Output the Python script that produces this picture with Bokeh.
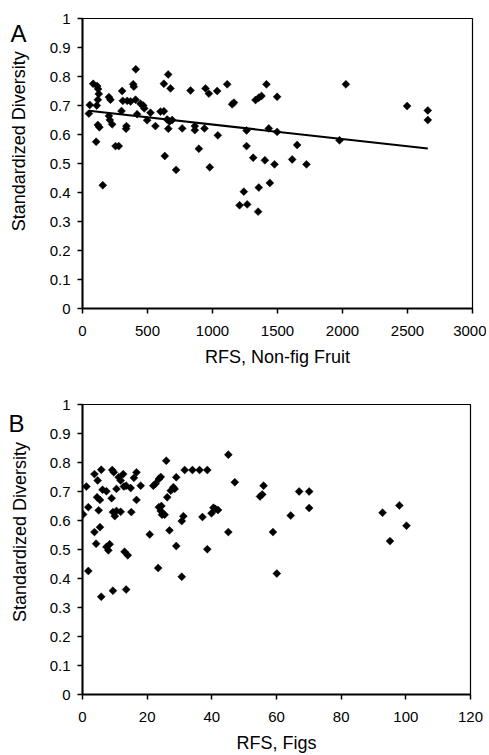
from bokeh.plotting import figure
from bokeh.layouts import column, row
from bokeh.models import FixedTicker, CustomJSTickFormatter, Range1d, ColumnDataSource
from bokeh.core.properties import value
from bokeh.embed import file_html
from bokeh.resources import INLINE
import math

# ---------------- Panel A: RFS, Non-fig Fruit ----------------
nonfig_x = [49, 56, 82, 113, 120, 125, 118, 110, 105, 118, 130, 203, 215, 203, 210,
            228, 254, 279, 305, 310, 300, 338, 335, 344, 370, 390, 395, 410, 408, 420,
            446, 467, 475, 497, 523, 561, 600, 626, 626, 659, 677, 633, 651, 660, 670,
            690, 720, 767, 831, 864, 864, 895, 938, 946, 972, 979, 1036, 1041, 1113,
            1151, 1165, 1262, 1262, 156, 1208, 1267, 1241, 1415, 1331, 1356, 1377,
            1497, 2026, 2497, 2656, 2656, 1433, 1497, 1977, 1651, 1313, 1403, 1477,
            1613, 1723, 1356, 1441, 1351]
nonfig_y = [0.672, 0.702, 0.775, 0.767, 0.757, 0.740, 0.720, 0.700, 0.575, 0.633,
            0.625, 0.729, 0.720, 0.664, 0.650, 0.635, 0.560, 0.560, 0.750, 0.716,
            0.681, 0.629, 0.620, 0.716, 0.714, 0.773, 0.765, 0.825, 0.720, 0.670,
            0.706, 0.700, 0.690, 0.649, 0.675, 0.629, 0.679, 0.680, 0.775, 0.807,
            0.759, 0.526, 0.652, 0.620, 0.645, 0.650, 0.478, 0.621, 0.752, 0.629,
            0.615, 0.551, 0.621, 0.759, 0.741, 0.487, 0.750, 0.597, 0.773, 0.704,
            0.710, 0.614, 0.560, 0.425, 0.356, 0.359, 0.403, 0.773, 0.719, 0.727,
            0.733, 0.730, 0.773, 0.698, 0.683, 0.650, 0.621, 0.609, 0.580, 0.564,
            0.520, 0.511, 0.497, 0.514, 0.497, 0.417, 0.433, 0.334]
trend_intercept = 0.684
trend_slope = -0.0000497

# ---------------- Panel B: RFS, Figs ----------------
figs_x = [0.2, 1.2, 1.8, 1.8, 3.7, 3.7, 4.2, 4.7, 4.5, 5.0, 5.4, 5.8, 5.4, 6.2, 7.4,
          7.4, 8.0, 8.4, 9.0, 9.2, 9.7, 9.4, 10.0, 10.5, 10.5, 11.8, 11.2, 11.8, 12.6,
          12.8, 13.5, 13.0, 14.0, 14.9, 15.1, 15.9, 16.7, 16.7, 18.0, 20.8, 21.9,
          22.6, 23.6, 24.2, 23.6, 24.4, 24.2, 24.6, 25.4, 25.9, 26.2, 26.9, 27.3,
          28.1, 28.5, 29.0, 29.0, 30.7, 31.2, 31.6, 34.0, 36.2, 38.6, 37.1, 38.6,
          39.9, 40.5, 41.1, 41.9, 45.1, 45.1, 47.1, 5.8, 9.4, 13.5, 23.4, 30.7, 60.1,
          56.0, 54.9, 55.6, 58.9, 64.4, 67.0, 70.1, 70.1, 92.8, 98.0, 100.2, 95.1]
figs_y = [0.621, 0.717, 0.646, 0.426, 0.760, 0.560, 0.520, 0.738, 0.680, 0.635,
          0.577, 0.775, 0.671, 0.706, 0.701, 0.509, 0.497, 0.518, 0.677, 0.774,
          0.766, 0.629, 0.615, 0.633, 0.709, 0.630, 0.749, 0.738, 0.760, 0.717,
          0.720, 0.492, 0.480, 0.712, 0.629, 0.747, 0.766, 0.671, 0.720, 0.552,
          0.720, 0.727, 0.743, 0.750, 0.646, 0.650, 0.633, 0.620, 0.620, 0.806,
          0.680, 0.566, 0.703, 0.715, 0.709, 0.749, 0.512, 0.598, 0.615, 0.774,
          0.774, 0.774, 0.774, 0.612, 0.501, 0.625, 0.644, 0.640, 0.636, 0.827,
          0.560, 0.732, 0.337, 0.358, 0.362, 0.436, 0.406, 0.417, 0.720, 0.683,
          0.690, 0.560, 0.617, 0.700, 0.700, 0.643, 0.627, 0.652, 0.582, 0.529]

y_ticks = [0, 0.1, 0.2, 0.3, 0.4, 0.5, 0.6, 0.7, 0.8, 0.9, 1]
xa_ticks = [0, 500, 1000, 1500, 2000, 2500, 3000]
xb_ticks = [0, 20, 40, 60, 80, 100, 120]
y_title = "Standardized Diversity"

FONT = "Liberation Sans"
FONT_V = value(FONT)
SIDE_W = 44      # narrow strip holding the panel letter and the y-axis title
MAIN_W = 442


def make_side(height, top, bottom, letter, letter_x, letter_y, title_x, title_y):
    fh = height - top - bottom
    s = figure(width=SIDE_W, height=height, x_range=Range1d(0, SIDE_W),
               y_range=Range1d(-bottom / fh, 1 + top / fh),
               output_backend="svg", toolbar_location=None,
               x_axis_location=None, y_axis_location=None,
               min_border=0, min_border_left=0, min_border_right=0,
               min_border_top=0, min_border_bottom=0)
    s.xgrid.visible = False
    s.ygrid.visible = False
    s.outline_line_color = None
    s.text(x=[letter_x], y=[letter_y], text=[letter], text_font=FONT_V,
           text_font_size="24px", text_color="black",
           text_align="center", text_baseline="middle")
    s.text(x=[title_x], y=[title_y], text=[y_title], text_font=FONT_V,
           text_font_size="18px", text_color="black", angle=math.pi / 2,
           text_align="center", text_baseline="middle")
    return s


def make_panel(xs, ys, xmax, xticks, xlabel, height, top, bottom, right):
    p = figure(width=MAIN_W, height=height, x_range=Range1d(0, xmax), y_range=Range1d(0, 1),
               output_backend="svg", toolbar_location=None,
               min_border_left=38, min_border_right=right,
               min_border_top=top, min_border_bottom=bottom)
    p.xgrid.visible = False
    p.ygrid.visible = False
    p.outline_line_color = "black"
    p.outline_line_width = 1.2
    p.outline_line_alpha = 1

    for ax in (p.xaxis[0], p.yaxis[0]):
        ax.axis_line_width = 2
        ax.axis_line_color = "black"
        ax.major_tick_line_color = "black"
        ax.major_tick_line_width = 1.5
        ax.major_tick_in = 0
        ax.major_tick_out = 5
        ax.minor_tick_line_color = None
        ax.major_label_text_font = FONT
        ax.major_label_text_font_size = "15px"
        ax.major_label_text_color = "black"
        ax.axis_label_text_font = FONT
        ax.axis_label_text_font_size = "18px"
        ax.axis_label_text_font_style = "normal"
        ax.axis_label_text_color = "black"

    p.yaxis.ticker = FixedTicker(ticks=y_ticks)
    p.yaxis.formatter = CustomJSTickFormatter(code="return tick.toFixed(1).replace(/\\.0$/, '');")
    p.yaxis.major_label_standoff = 7

    p.xaxis.ticker = FixedTicker(ticks=xticks)
    p.xaxis.major_label_standoff = 12
    p.xaxis.axis_label = xlabel
    p.xaxis.axis_label_standoff = 8

    src = ColumnDataSource(dict(x=xs, y=ys))
    p.scatter("x", "y", source=src, marker="square", size=5.6, angle=math.pi / 4,
              fill_color="black", line_color="black", line_width=0.5)
    return p


HA, A_TOP, A_BOT = 378, 18, 70
HB, B_TOP, B_BOT = 377, 26, 60

pa = make_panel(nonfig_x, nonfig_y, 3000, xa_ticks, "RFS, Non-fig Fruit", HA,
                A_TOP, A_BOT, 14)
xa_min, xa_max = min(nonfig_x), max(nonfig_x)
pa.line([xa_min, xa_max],
        [trend_intercept + trend_slope * xa_min, trend_intercept + trend_slope * xa_max],
        line_color="black", line_width=2)
sa = make_side(HA, A_TOP, A_BOT, "A", 18, 0.995, 18, 0.51)

pb = make_panel(figs_x, figs_y, 120, xb_ticks, "RFS, Figs", HB,
                B_TOP, B_BOT, 16)
sb = make_side(HB, B_TOP, B_BOT, "B", 16, 1.003, 19, 0.52)

layout = column(row(sa, pa, spacing=0), row(sb, pb, spacing=0), spacing=0)
open("out.html", "w").write(file_html(layout, INLINE))
